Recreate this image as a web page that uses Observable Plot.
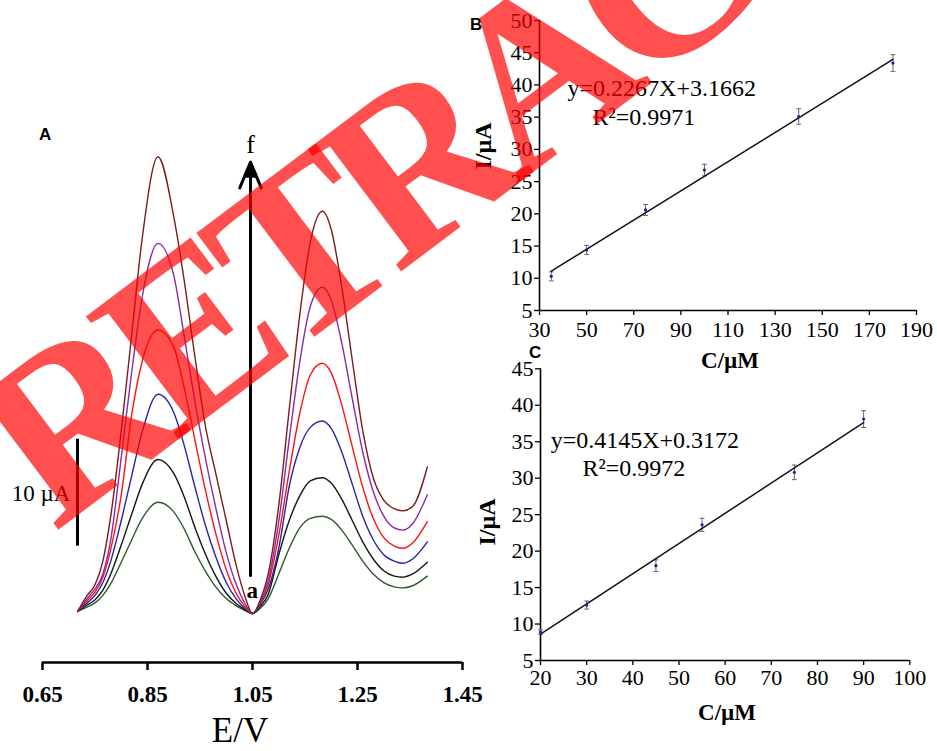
<!DOCTYPE html>
<html><head><meta charset="utf-8">
<script src="https://cdn.jsdelivr.net/npm/d3@7"></script>
<script src="https://cdn.jsdelivr.net/npm/@observablehq/plot@0.6"></script>
<style>
body{margin:0;background:#fff;}
#wrap{position:relative;width:937px;height:751px;overflow:hidden;background:#fff;font-family:"Liberation Serif","Times New Roman",serif;}
.panel{position:absolute;}
.lbl{position:absolute;white-space:nowrap;color:#000;line-height:1;}
.sans{font-family:"Liberation Sans",Arial,sans-serif;font-weight:bold;}
</style></head><body><div id="wrap"></div><script>
// ---------- Panel A: DPV curves (E / V vs I / µA) ----------
const potentials = [0.717,0.735,0.75,0.765,0.78,0.80,0.82,0.84,0.87,0.90,0.92,0.94,0.96,0.98,1.00,1.02,1.035,1.05,
  1.065,1.08,1.10,1.12,1.14,1.16,1.183,1.20,1.22,1.24,1.26,1.28,1.30,1.32,1.336,1.355,1.383];
const curveA = [0.1,0.5,0.9,1.6,2.7,4.7,6.8,8.8,10.3,9.4,7.8,5.7,3.9,2.4,1.3,0.6,0.2,-0.1,
  0.4,1.3,3.6,6.0,7.9,8.8,9.0,8.7,7.7,6.3,4.8,3.6,2.8,2.4,2.3,2.5,3.4];
const curveB = [0.1,0.7,1.2,2.1,3.6,6.3,9.2,12.0,14.3,13.0,10.8,8.0,5.5,3.4,1.8,0.8,0.3,-0.1,
  0.6,1.7,5.4,8.6,10.9,12.3,12.6,12.1,10.6,8.6,6.6,5.0,3.9,3.4,3.3,3.6,4.7];
const curveC = [0.1,0.9,1.6,2.8,4.8,8.6,12.8,16.9,20.4,18.7,15.6,11.8,8.2,5.2,2.8,1.2,0.4,-0.1,
  0.8,2.2,6.0,11.8,15.4,17.3,17.9,17.2,15.0,12.0,9.0,6.8,5.4,4.8,4.6,5.0,6.6];
const curveD = [0.1,1.1,1.9,3.3,5.9,11.0,18.5,23.5,26.4,24.8,21.0,16.2,11.5,7.4,4.0,1.7,0.6,-0.1,
  0.9,2.6,7.2,13.2,18.6,22.2,23.3,22.4,19.4,15.5,11.7,8.8,7.0,6.2,6.0,6.5,8.5];
const curveE = [0.1,1.3,2.2,3.6,6.8,14.5,22.5,29.5,34.5,31.5,25.8,19.8,14.5,9.8,5.6,2.5,0.9,-0.1,
  1.0,3.0,8.5,16.2,23.4,28.6,30.4,29.2,25.2,20.0,15.0,11.3,9.0,7.9,7.7,8.3,11.0];
const curveF = [0.1,1.6,2.6,4.8,9.0,17.0,26.0,35.0,42.6,37.0,31.0,24.0,17.5,13.0,8.6,4.2,1.6,-0.1,
  1.2,3.6,10.0,19.0,27.8,34.6,37.5,35.8,30.4,23.6,17.0,12.6,10.5,9.7,9.5,9.9,13.6];
const curveNames = ["a","b","c","d","e","f"];
const curveColors = ["#2b5c2b","#151515","#2626a6","#ff1414","#8a2aa8","#7a1c1c"];
const ticksA = [0.65,0.85,1.05,1.25,1.45];
const scaleBarUA = [6.2, 16.2];      // 10 µA scale bar
const arrowUA = [3.46, 42.1];        // a -> f arrow

// ---------- Panel B ----------
const concB = [35,50,75,100,140,180];
const currB = [10.3,14.4,20.6,26.8,35.1,43.4];
const errB  = [0.7,0.7,0.85,0.9,1.2,1.3];
const fitB = {slope:0.2267, intercept:3.1662};
const xTicksB = [30,50,70,90,110,130,150,170,190];
const yTicksB = [5,10,15,20,25,30,35,40,45,50];

// ---------- Panel C ----------
const concC = [20,30,45,55,75,90];
const currC = [8.9,12.6,18.0,23.6,30.8,38.1];
const errC  = [0.3,0.55,0.8,0.9,1.0,1.15];
const fitC = {slope:0.4145, intercept:0.3172};
const xTicksC = [20,30,40,50,60,70,80,90,100];
const yTicksC = [5,10,15,20,25,30,35,40,45];

// ---------------------------------------------------------
const wrap = document.getElementById("wrap");
const serif = '"Liberation Serif","Times New Roman",serif';
const baseStyle = {background:"transparent", fontFamily: serif, color:"#000", overflow:"visible"};
const capSymbol = {draw(ctx, size){ const r = Math.sqrt(size/Math.PI); ctx.moveTo(-r,0); ctx.lineTo(r,0); }};

function place(node, left, top){ node.classList.add("panel"); node.style.left = left+"px"; node.style.top = top+"px"; wrap.appendChild(node); }

// Panel A data table
const curves = [curveA,curveB,curveC,curveD,curveE,curveF];
const rowsA = [];
curves.forEach((arr,k)=> arr.forEach((v,i)=> rowsA.push({s: curveNames[k], E: potentials[i], I: v})));

const yDomA = [-50/10.7, 612/10.7];
const plotA = Plot.plot({
  width: 490, height: 751, marginLeft: 42, marginRight: 28, marginTop: 0, marginBottom: 89,
  style: {...baseStyle, fontSize: "23px"},
  x: {domain: [0.65,1.45]},
  y: {domain: yDomA, axis: null},
  color: {domain: curveNames, range: curveColors},
  marks: [
    Plot.axisX({ticks: ticksA, tickFormat: d3.format(".2f"), tickSize: 8, tickPadding: 15, fontWeight: "bold", fontSize: 23, strokeWidth: 2.5, label: null}),
    Plot.ruleY([yDomA[0]], {strokeWidth: 2.5}),
    Plot.line(rowsA, {x: "E", y: "I", z: "s", stroke: "s", strokeWidth: 1.4, curve: "monotone-x"}),
    Plot.ruleX([0.7167], {y1: scaleBarUA[0], y2: scaleBarUA[1], strokeWidth: 3}),
    Plot.text(["10 µA"], {x: 0.7033, y: 11.1, textAnchor: "end", fontSize: 23}),
    Plot.arrow([0], {x1: 1.0462, x2: 1.0462, y1: arrowUA[0], y2: arrowUA[1], strokeWidth: 3, headLength: 14, headAngle: 45}),
    Plot.dot([0], {x: 1.0462, y: 41.0, symbol: "triangle", r: 5, fill: "#000"}),
    Plot.text(["f"], {x: 1.0462, y: 43.7, fontSize: 26}),
    Plot.text(["a"], {x: 1.0495, y: 2.06, fontSize: 23, fontWeight: "bold"})
  ]
});
place(plotA, 0, 0);

function calib(conc, curr, err, fit, xd, yd, xt, yt, eq, opts){
  const rows = conc.map((c,i)=>({c, y: curr[i], e: err[i]}));
  const ends = [d3.min(conc), d3.max(conc)].map(c=>({c, y: fit.slope*c + fit.intercept}));
  return Plot.plot({
    width: 477, height: opts.h, marginLeft: opts.ml, marginRight: opts.mr, marginTop: opts.mt, marginBottom: opts.mb,
    style: {...baseStyle, fontSize: "22px"},
    x: {domain: xd}, y: {domain: yd},
    marks: [
      Plot.axisX({ticks: xt, tickSize: 5, tickPadding: opts.xp, fontSize: 22, label: null, strokeWidth: 1.3}),
      Plot.axisY({ticks: yt, tickSize: 5, tickPadding: 2, fontSize: 22, label: null, strokeWidth: 1.3}),
      Plot.ruleX([xd[0]], {strokeWidth: 1.6}),
      Plot.ruleY([yd[0]], {strokeWidth: 1.6}),
      Plot.ruleX(rows, {x: "c", y1: d=>d.y-d.e, y2: d=>d.y+d.e, stroke: "#666", strokeWidth: 1}),
      Plot.dot(rows, {x: "c", y: d=>d.y+d.e, symbol: capSymbol, r: 2.4, stroke: "#666", strokeWidth: 1}),
      Plot.dot(rows, {x: "c", y: d=>d.y-d.e, symbol: capSymbol, r: 2.4, stroke: "#666", strokeWidth: 1}),
      Plot.line(ends, {x: "c", y: "y", stroke: "#111", strokeWidth: 1.5}),
      Plot.dot(rows, {x: "c", y: "y", r: 1.6, fill: "#1c1ca8", stroke: "none"}),
      Plot.text([eq[0]], {x: opts.e1[0], y: opts.e1[1], textAnchor: "start", fontSize: 24}),
      Plot.text([eq[1]], {x: opts.e2[0], y: opts.e2[1], textAnchor: "start", fontSize: 24})
    ]
  });
}

const plotB = calib(concB, currB, errB, fitB, [30,190], [5,50], xTicksB, yTicksB,
  ["y=0.2267X+3.1662", "R²=0.9971"],
  {h: 360, ml: 79, mr: 21, mt: 20, mb: 50, xp: 6, e1: [41.9, 39.45], e2: [52.5, 34.95]});
place(plotB, 460, 0);

const plotC = calib(concC, currC, errC, fitC, [20,100], [5,45], xTicksC, yTicksC,
  ["y=0.4145X+0.3172", "R²=0.9972"],
  {h: 391, ml: 80, mr: 27.7, mt: 8.3, mb: 91, xp: 4, e1: [22.2, 35.2], e2: [29.1, 31.3]});
place(plotC, 460, 360);

// labels
function lbl(text, css, cls){ const d = document.createElement("div"); d.className = "lbl" + (cls? " "+cls : ""); d.textContent = text; Object.assign(d.style, css); wrap.appendChild(d); }
lbl("A", {left:"39px", top:"126px", fontSize:"17px"}, "sans");
lbl("B", {left:"470px", top:"16px", fontSize:"17px"}, "sans");
lbl("C", {left:"529px", top:"344px", fontSize:"17px"}, "sans");
lbl("E/V", {left:"240px", top:"713px", fontSize:"35px", transform:"translateX(-50%)"});
lbl("C/µM", {left:"730px", top:"349px", fontSize:"23px", fontWeight:"bold", transform:"translateX(-50%)"});
lbl("C/µM", {left:"727px", top:"701px", fontSize:"23px", fontWeight:"bold", transform:"translateX(-50%)"});
lbl("I/µA", {left:"483px", top:"146px", fontSize:"24px", fontWeight:"bold", transform:"translate(-50%,-50%) rotate(-90deg)"});
lbl("I/µA", {left:"487px", top:"522px", fontSize:"24px", fontWeight:"bold", transform:"translate(-50%,-50%) rotate(-90deg)"});

// RETRACTED watermark
const ns = "http://www.w3.org/2000/svg";
const wm = document.createElementNS(ns, "svg");
wm.setAttribute("width", 937); wm.setAttribute("height", 751);
wm.style.cssText = "position:absolute;left:0;top:0;pointer-events:none";
const t = document.createElementNS(ns, "text");
t.setAttribute("x", 54); t.setAttribute("y", 533);
t.setAttribute("transform", "rotate(-37 54 533)");
t.setAttribute("font-family", serif); t.setAttribute("font-weight", "bold");
t.setAttribute("letter-spacing", "-18");
t.setAttribute("font-size", 235); t.setAttribute("fill", "#ff0000"); t.setAttribute("fill-opacity", 0.69);
t.textContent = "RETRACTED";
wm.appendChild(t); wrap.appendChild(wm);
</script></body></html>
